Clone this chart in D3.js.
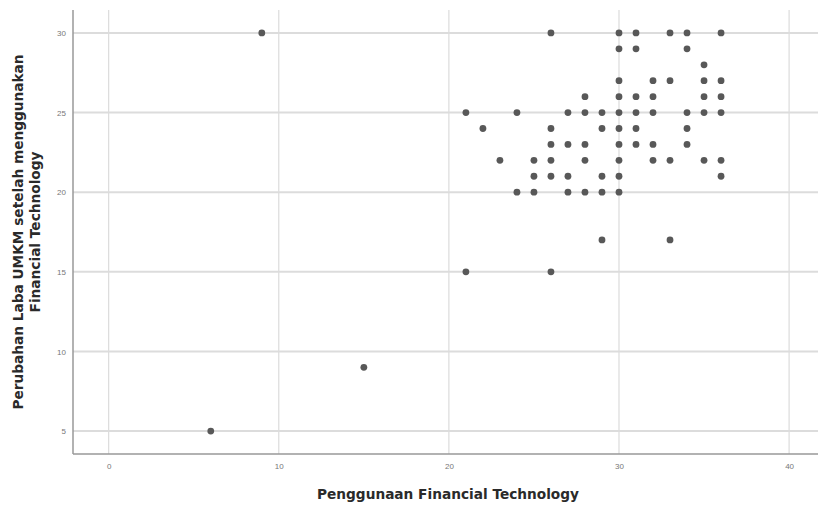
<!DOCTYPE html>
<html><head><meta charset="utf-8">
<script src="https://cdn.jsdelivr.net/npm/d3@7"></script>
<style>body{margin:0;background:#fff}svg{display:block}</style>
</head><body>
<svg id="c" width="818" height="507"></svg>
<script>
// data: Penggunaan Financial Technology (x) vs Perubahan Laba (y)
const xVals = [9,26,30,31,33,34,36, 30,31,34, 35, 30,32,33,35,36, 28,30,31,32,35,36,
  21,24,27,28,29,30,31,32,34,35,36, 22,26,29,30,31,34, 26,27,28,30,31,32,34,
  23,25,26,28,30,32,33,35,36, 25,26,27,29,30,36, 24,25,27,28,29,30, 29,33, 21,26, 15, 6];
const yVals = [30,30,30,30,30,30,30, 29,29,29, 28, 27,27,27,27,27, 26,26,26,26,26,26,
  25,25,25,25,25,25,25,25,25,25,25, 24,24,24,24,24,24, 23,23,23,23,23,23,23,
  22,22,22,22,22,22,22,22,22, 21,21,21,21,21,21, 20,20,20,20,20,20, 17,17, 15,15, 9, 5];
const xTicks = [0,10,20,30,40];
const yTicks = [5,10,15,20,25,30];
const xTitle = "Penggunaan Financial Technology";
const yTitle = ["Perubahan Laba UMKM setelah menggunakan", "Financial Technology"];

const svg = d3.select("#c");
const L = 73, R = 818, T = 10, B = 454;
const x = d3.scaleLinear().domain([-2.1, 41.7]).range([L, R]);
const y = d3.scaleLinear().domain([3.56, 31.44]).range([B, T]);

// gridlines
svg.append("g").selectAll("line").data(xTicks).join("line")
  .attr("x1", d => x(d)).attr("x2", d => x(d)).attr("y1", T).attr("y2", B)
  .attr("stroke", "#d4d4d4").attr("stroke-width", 1);
svg.append("g").selectAll("line").data(yTicks).join("line")
  .attr("x1", L).attr("x2", R).attr("y1", d => y(d)).attr("y2", d => y(d))
  .attr("stroke", "#dcdcdc").attr("stroke-width", 2);

// axes
const xa = svg.append("g").attr("transform", `translate(0,${B})`)
  .call(d3.axisBottom(x).tickValues(xTicks).tickSize(0).tickPadding(9));
const ya = svg.append("g").attr("transform", `translate(${L},0)`)
  .call(d3.axisLeft(y).tickValues(yTicks).tickSize(0).tickPadding(7));
[xa, ya].forEach(a => {
  a.select(".domain").attr("stroke", "#999").attr("stroke-width", 1.5);
  a.selectAll("text").attr("font-family", "Liberation Sans, Arial, sans-serif")
    .attr("font-size", 8).attr("fill", "#777");
});
ya.select(".domain").attr("d", `M0,${T}V${B}`);
xa.select(".domain").attr("d", `M${L},0H${R}`);

// points
svg.append("g").selectAll("circle").data(xVals.map((v, i) => [v, yVals[i]])).join("circle")
  .attr("cx", d => x(d[0])).attr("cy", d => y(d[1])).attr("r", 3.4)
  .attr("fill", "#585858");

// titles
const font = "DejaVu Sans, Verdana, sans-serif";
svg.append("text").attr("x", 448).attr("y", 499).attr("text-anchor", "middle")
  .attr("font-family", font).attr("font-size", 13.7).attr("font-weight", "bold")
  .attr("fill", "#2a2a2a").text(xTitle);
const yt = svg.append("text").attr("transform", "translate(23,232) rotate(-90)")
  .attr("text-anchor", "middle")
  .attr("font-family", font).attr("font-size", 13.7).attr("font-weight", "bold")
  .attr("fill", "#2a2a2a");
yTitle.forEach((t, i) => yt.append("tspan").attr("x", 0).attr("dy", i ? 17 : 0).text(t));
</script>
</body></html>
